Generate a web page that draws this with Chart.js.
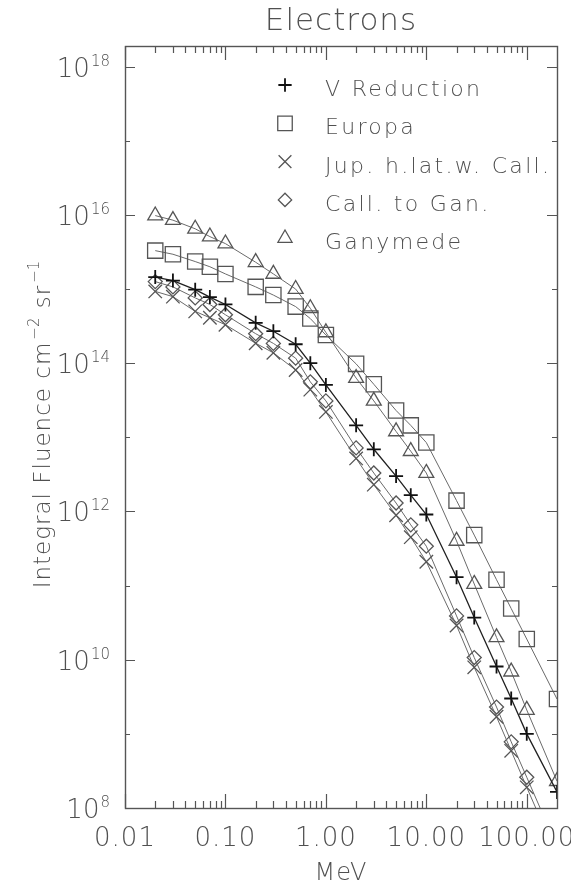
<!DOCTYPE html>
<html>
<head>
<meta charset="utf-8">
<script src="https://cdn.jsdelivr.net/npm/chart.js@4/dist/chart.umd.min.js"></script>
<style>
html, body { margin: 0; padding: 0; background: #ffffff; }
#wrap { width: 571px; height: 884px; position: relative; }
canvas { display: block; }
</style>
</head>
<body>
<div id="wrap"><canvas id="c" width="571" height="884"></canvas></div>
<script>
// ---- data ----
const energies = [0.02, 0.03, 0.05, 0.07, 0.1, 0.2, 0.3, 0.5, 0.7, 1, 2, 3, 5, 7, 10, 20, 30, 50, 70, 100, 200];

const vReduction = [1.45e15, 1.3e15, 9.8e14, 7.8e14, 6.2e14, 3.5e14, 2.7e14, 1.8e14, 1.0e14, 5.1e13,
  1.45e13, 6.9e12, 3.0e12, 1.66e12, 9.1e11, 1.3e11, 3.7e10, 8.1e9, 3.0e9, 1.0e9, 1.65e8];

const europa = [3.3e15, 2.95e15, 2.35e15, 2.0e15, 1.6e15, 1.07e15, 8.3e14, 5.8e14, 4.0e14, 2.4e14,
  9.8e13, 5.2e13, 2.3e13, 1.45e13, 8.5e12, 1.4e12, 4.8e11, 1.2e11, 4.9e10, 1.9e10, 2.95e9];

const jupHighLat = [9.3e14, 7.9e14, 5.0e14, 4.1e14, 3.3e14, 1.86e14, 1.38e14, 8.1e13, 4.4e13, 2.2e13,
  5.2e12, 2.3e12, 8.9e11, 4.5e11, 2.1e11, 2.9e10, 7.9e9, 1.7e9, 5.9e8, 1.9e8, 2.2e7];

const callToGan = [1.26e15, 1.07e15, 7.6e14, 6.2e14, 4.5e14, 2.5e14, 1.85e14, 1.17e14, 5.6e13, 3.1e13,
  7.2e12, 3.3e12, 1.3e12, 6.6e11, 3.4e11, 3.9e10, 1.07e10, 2.3e9, 7.8e8, 2.6e8, 3.0e7];

const ganymede = [9.8e15, 8.5e15, 6.5e15, 5.1e15, 4.1e15, 2.3e15, 1.6e15, 1.0e15, 5.5e14, 2.6e14,
  6.3e13, 3.1e13, 1.2e13, 6.5e12, 3.3e12, 4.0e11, 1.05e11, 2.0e10, 6.9e9, 2.1e9, 2.3e8];

const seriesNames = ['V Reduction', 'Europa', 'Jup. h.lat.w. Call.', 'Call. to Gan.', 'Ganymede'];

const xTickValues = [0.01, 0.1, 1, 10, 100];
const xTickLabels = ['0.01', '0.10', '1.00', '10.00', '100.00'];
const yTickExponents = [8, 10, 12, 14, 16, 18];
const yTickLabels = ['8', '10', '12', '14', '16', '18'];

const titleText = 'Electrons';
const xTitle = 'MeV';
const yTitleParts = [['Integral Fluence cm', false], ['\u22122', true], [' sr', false], ['\u22121', true]];

// ---- styles ----
const FONT = "'DejaVu Sans', 'Liberation Sans', sans-serif";
const W = '200 ';
const TEXT = '#505050';
const AXIS = '#555555';
const xMin = 0.01, xMax = 200, yMin = 1e8, yMax = 1.9e18;

const styles = [
  { line: '#202020', lw: 1.3, point: 'cross',    r: 7,   pc: '#111111', pw: 1.8 },
  { line: '#6a6a6a', lw: 1.0, point: 'rect',     r: 10.8, pc: '#555555', pw: 1.3 },
  { line: '#6a6a6a', lw: 1.0, point: 'crossRot', r: 9.5, pc: '#555555', pw: 1.3 },
  { line: '#6a6a6a', lw: 1.0, point: 'rectRot',  r: 7,   pc: '#555555', pw: 1.3 },
  { line: '#6a6a6a', lw: 1.0, point: 'triangle', r: 8.6, pc: '#555555', pw: 1.3 }
];
const seriesValues = [vReduction, europa, jupHighLat, callToGan, ganymede];

const datasets = seriesValues.map((vals, i) => ({
  label: seriesNames[i],
  data: energies.map((e, j) => ({ x: e, y: vals[j] })),
  borderColor: styles[i].line,
  borderWidth: styles[i].lw,
  pointStyle: styles[i].point,
  pointRadius: styles[i].r,
  pointBorderColor: styles[i].pc,
  pointBorderWidth: styles[i].pw,
  pointBackgroundColor: 'rgba(0,0,0,0)',
  pointHoverRadius: styles[i].r,
  tension: 0,
  fill: false
}));

function withSpacing(ctx, sp) {
  if ('letterSpacing' in ctx) ctx.letterSpacing = sp + 'px';
}

const framePlugin = {
  id: 'frame',
  afterDraw(chart) {
    const ctx = chart.ctx;
    const a = chart.chartArea;
    const xs = chart.scales.x, ys = chart.scales.y;
    ctx.save();

    // frame
    ctx.strokeStyle = AXIS;
    ctx.lineWidth = 1.4;
    ctx.strokeRect(Math.round(a.left) + 0.5, Math.round(a.top) + 0.5,
      Math.round(a.right - a.left), Math.round(a.bottom - a.top));

    // ticks (inward, all four sides)
    ctx.lineWidth = 1.2;
    ctx.beginPath();
    for (let e = -2; e <= 2; e++) {
      for (let k = 1; k <= 9; k++) {
        const v = k * Math.pow(10, e);
        if (v < xMin * 0.999 || v > xMax * 0.999) continue;
        const px = Math.round(xs.getPixelForValue(v)) + 0.5;
        const len = k === 1 ? 14 : 7;
        ctx.moveTo(px, a.bottom); ctx.lineTo(px, a.bottom - len);
        ctx.moveTo(px, a.top); ctx.lineTo(px, a.top + len);
      }
    }
    for (let e = 8; e <= 18; e++) {
      const py = Math.round(ys.getPixelForValue(Math.pow(10, e))) + 0.5;
      const len = e % 2 === 0 ? 10 : 5;
      ctx.moveTo(a.left, py); ctx.lineTo(a.left + len, py);
      ctx.moveTo(a.right, py); ctx.lineTo(a.right - len, py);
    }
    ctx.stroke();

    ctx.fillStyle = TEXT;

    // x tick labels
    ctx.font = W + '26px ' + FONT;
    ctx.textAlign = 'center';
    ctx.textBaseline = 'alphabetic';
    withSpacing(ctx, 1);
    xTickValues.forEach((v, i) => {
      const px = xs.getPixelForValue(v);
      ctx.fillText(xTickLabels[i], px, a.bottom + 38);
    });

    // y tick labels: 10^n
    yTickExponents.forEach((n, i) => {
      const py = ys.getPixelForValue(Math.pow(10, n));
      ctx.font = W + '15px ' + FONT;
      withSpacing(ctx, 0);
      const ew = ctx.measureText(yTickLabels[i]).width;
      ctx.textAlign = 'left';
      const right = a.left - 15;
      ctx.fillText(yTickLabels[i], right - ew, py - 1);
      ctx.font = W + '26px ' + FONT;
      ctx.textAlign = 'right';
      ctx.fillText('10', right - ew - 1, py + 10);
    });

    // x axis title
    ctx.font = W + '24px ' + FONT;
    withSpacing(ctx, 1);
    ctx.textAlign = 'center';
    ctx.fillText(xTitle, (a.left + a.right) / 2, 880);

    // title
    ctx.font = W + '31px ' + FONT;
    withSpacing(ctx, 1);
    ctx.fillText(titleText, (a.left + a.right) / 2, 30);

    // y axis title (rotated)
    ctx.save();
    ctx.translate(50, (a.top + a.bottom) / 2 - 3);
    ctx.rotate(-Math.PI / 2);
    ctx.textAlign = 'left';
    let total = 0;
    const parts = yTitleParts.map(([t, sup]) => {
      ctx.font = W + (sup ? '15px ' : '23px ') + FONT;
      withSpacing(ctx, sup ? 0 : 1);
      const w = ctx.measureText(t).width;
      total += w + (sup ? 3 : 0);
      return { t, sup, w };
    });
    let cx = -total / 2;
    parts.forEach(p => {
      ctx.font = W + (p.sup ? '15px ' : '23px ') + FONT;
      withSpacing(ctx, p.sup ? 0 : 1);
      if (p.sup) { cx += 2; ctx.fillText(p.t, cx, -11); cx += p.w + 1; }
      else { ctx.fillText(p.t, cx, 0); cx += p.w; }
    });
    ctx.restore();

    // legend
    const lx = 285, tx = 325;
    seriesNames.forEach((name, i) => {
      const cy = 88 + 38.3 * i;
      const s = styles[i];
      ctx.strokeStyle = s.pc;
      ctx.fillStyle = 'rgba(0,0,0,0)';
      ctx.lineWidth = s.pw;
      Chart.helpers.drawPoint(ctx, { pointStyle: s.point, rotation: 0, radius: s.r * 0.95, borderWidth: s.pw }, lx, cy - 3);
      ctx.fillStyle = TEXT;
      ctx.font = W + '22px ' + FONT;
      withSpacing(ctx, 2.3);
      ctx.textAlign = 'left';
      ctx.fillText(name, tx, cy + 8);
    });

    ctx.restore();
  }
};

new Chart(document.getElementById('c').getContext('2d'), {
  type: 'line',
  data: { datasets },
  options: {
    responsive: false,
    animation: false,
    devicePixelRatio: 1,
    layout: { padding: { top: 46, right: 14, left: 0, bottom: 0 } },
    plugins: {
      legend: { display: false },
      title: { display: false },
      tooltip: { enabled: false }
    },
    scales: {
      x: {
        type: 'logarithmic', min: xMin, max: xMax,
        grid: { display: false }, border: { display: false },
        ticks: { display: false },
        afterFit(s) { s.height = 76; }
      },
      y: {
        type: 'logarithmic', min: yMin, max: yMax,
        grid: { display: false }, border: { display: false },
        ticks: { display: false },
        afterFit(s) { s.width = 125; }
      }
    }
  },
  plugins: [framePlugin]
});
</script>
</body>
</html>
